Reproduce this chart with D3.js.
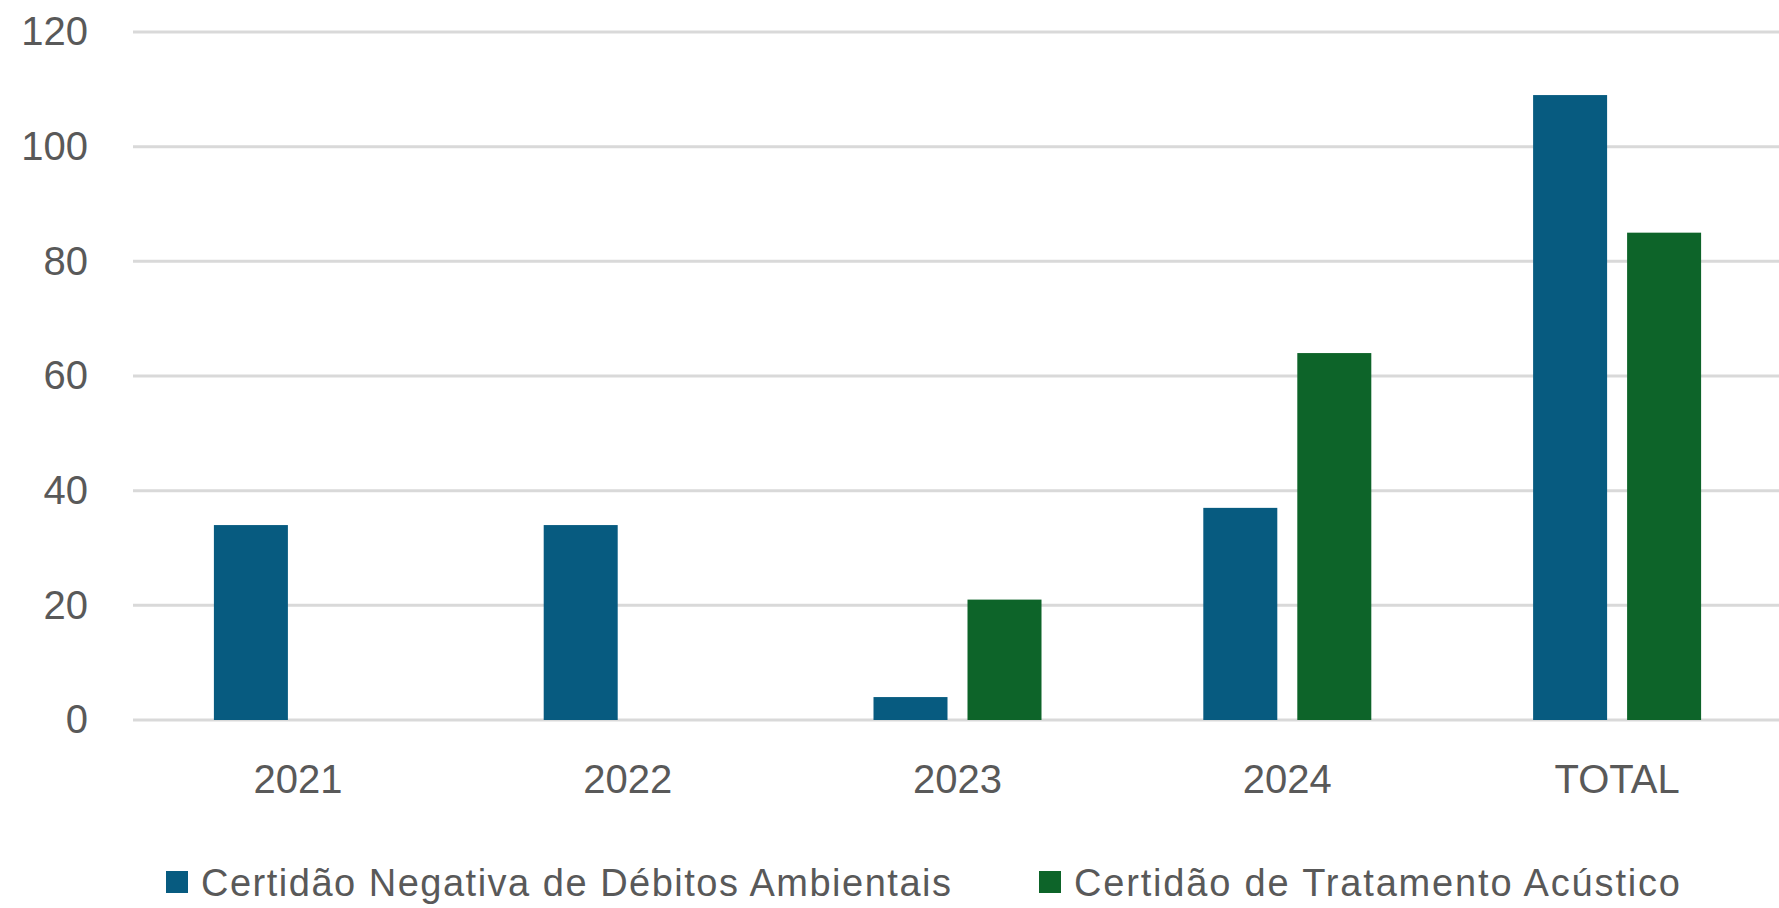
<!DOCTYPE html>
<html>
<head>
<meta charset="utf-8">
<script src="https://cdn.jsdelivr.net/npm/d3@7"></script>
<style>
  body { margin: 0; background: #fff; }
  text { font-family: "Liberation Sans", Arial, sans-serif; fill: #595959; }
</style>
</head>
<body>
<svg id="chart" width="1779" height="908"></svg>
<script>
// chart data
var categories = ["2021", "2022", "2023", "2024", "TOTAL"];
var seriesNames = ["Certidão Negativa de Débitos Ambientais", "Certidão de Tratamento Acústico"];
var negativaValues = [34, 34, 4, 37, 109];
var acusticoValues = [0, 0, 21, 64, 85];
var yTicks = [0, 20, 40, 60, 80, 100, 120];
var colors = ["#075b80", "#0d6429"];

var svg = d3.select("#chart");

// scales
var x = d3.scaleBand().domain(categories).range([133, 1782]).padding(0);
var y = d3.scaleLinear().domain([0, 120]).range([720, 32]);

// gridlines
svg.append("g")
  .selectAll("line")
  .data(yTicks)
  .enter().append("line")
  .attr("x1", 133)
  .attr("x2", 1779)
  .attr("y1", function(d) { return y(d); })
  .attr("y2", function(d) { return y(d); })
  .style("stroke", "#d9d9d9")
  .style("stroke-width", 3);

// y axis labels
var yAxis = svg.append("g")
  .attr("transform", "translate(88,0)")
  .call(d3.axisLeft(y).tickValues(yTicks).tickSize(0).tickPadding(0));
yAxis.select(".domain").remove();
yAxis.selectAll("text")
  .style("font-size", "40px")
  .style("fill", "#595959");

// x axis labels
var xAxis = svg.append("g")
  .attr("transform", "translate(0,765)")
  .call(d3.axisBottom(x).tickSize(0).tickPadding(0));
xAxis.select(".domain").remove();
xAxis.selectAll("text")
  .style("font-size", "40px")
  .style("fill", "#595959");

// bars
var rows = categories.map(function(c, i) {
  return { cat: c, values: [negativaValues[i], acusticoValues[i]] };
});

var x1 = d3.scaleBand().domain([0, 1]).range([-84, 84]).paddingInner(20 / 94);

var groups = svg.append("g")
  .selectAll(".group")
  .data(rows)
  .enter().append("g")
  .attr("class", "group")
  .attr("transform", function(d) { return "translate(" + (x(d.cat) + x.bandwidth() / 2) + ",0)"; });

groups.selectAll("rect")
  .data(function(d) { return d.values.map(function(v, k) { return { k: k, v: v }; }); })
  .enter().append("rect")
  .filter(function(d) { return d.v > 0; })
  .attr("x", function(d) { return x1(d.k); })
  .attr("width", x1.bandwidth())
  .attr("y", function(d) { return y(d.v); })
  .attr("height", function(d) { return y(0) - y(d.v); })
  .style("fill", function(d) { return colors[d.k]; });

// legend
var legendX = [166, 1039];
var legendLen = [750, 606];
var legend = svg.append("g")
  .selectAll(".legend")
  .data(seriesNames)
  .enter().append("g")
  .attr("class", "legend")
  .attr("transform", function(d, i) { return "translate(" + legendX[i] + ",871)"; });

legend.append("rect")
  .attr("width", 22)
  .attr("height", 22)
  .style("fill", function(d, i) { return colors[i]; });

legend.append("text")
  .attr("x", 35)
  .attr("y", 11)
  .attr("dy", "0.36em")
  .attr("textLength", function(d, i) { return legendLen[i]; })
  .attr("lengthAdjust", "spacing")
  .style("font-size", "38px")
  .text(function(d) { return d; });
</script>
</body>
</html>
